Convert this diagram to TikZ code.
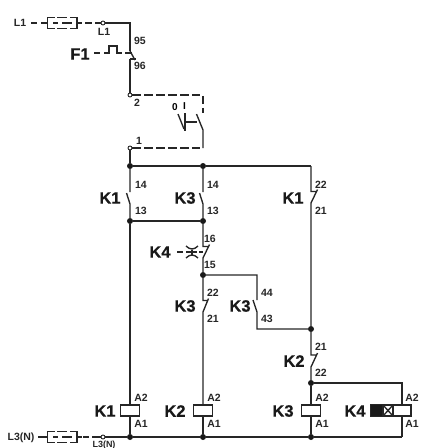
\documentclass[tikz,border=0pt]{standalone}
\usepackage{fontspec}
\setmainfont{Liberation Sans}
\newfontfamily\devfont[BoldFeatures={FakeBold=0.7}]{Liberation Sans}
\tikzset{
  x=1pt,y=-1pt,
  wire/.style={line width=1.35pt,draw=black!85},
  mech/.style={line width=1.35pt,draw=black!85,dash pattern=on 8.5pt off 3.4pt},
  dot/.style={circle,fill=black!90,draw=none,inner sep=0pt,minimum size=6pt},
  term/.style={circle,fill=white,draw=black!85,line width=0.9pt,inner sep=0pt,minimum size=4pt},
  tag/.style={font=\fontsize{10.5}{11}\selectfont\bfseries,text=black!85,inner sep=0pt},
  dev/.style={font=\fontsize{16.5}{17}\selectfont\devfont\bfseries,text=black!90,inner sep=0pt},
  coil/.style={draw=black!85,line width=1.35pt,fill=white,minimum width=18.5pt,minimum height=11pt,inner sep=0pt},
}
\begin{document}
\begin{tikzpicture}
\useasboundingbox (0,0) rectangle (429,448);
% terminals and junctions
\node[dot] (j1) at (130,166) {};
\node[dot] (j2) at (203,166) {};
\node[dot] (j3) at (130,221) {};
\node[dot] (j4) at (203,221) {};
\node[dot] (j5) at (203,275) {};
\node[dot] (j6) at (311,329) {};
\node[dot] (j7) at (311,383) {};
\node[dot] (b1) at (130,437) {};
\node[dot] (b2) at (203,437) {};
\node[dot] (b3) at (311,437) {};
\coordinate (bEnd) at (402,437);
\coordinate (c1) at (130,23);
\coordinate (f1a) at (130,51);
\coordinate (f1b) at (130,59);
\coordinate (r1) at (311,166);
\coordinate (tr) at (402,383);
\coordinate (m1) at (203,95);
\coordinate (m2) at (203,148);
\coordinate (k43) at (257,329);
\coordinate (k44) at (257,275);
\coordinate (pL1) at (103,23);
\coordinate (p2) at (130,95);
\coordinate (p1) at (130,148);
\coordinate (pL3) at (103,437);
% wires
\draw[wire] (pL1) -- (c1) -- (f1a);
\draw[wire] (f1a) -- (135,60);
\draw[wire] (f1b) -- (136,59);
\draw[wire] (f1b) -- (p2);
\draw[wire] (p1) -- (j1);
\draw[wire] (j1) -- (j2) -- (r1);
% K1 NO
\draw[wire] (j1) -- (130,192) (126.5,193) -- (130,204) -- (j3);
% K3 NO
\draw[wire] (j2) -- (203,192) (199.5,193) -- (203,204) -- (j4);
\draw[wire] (j3) -- (j4);
% K1 NC right
\draw[wire] (r1) -- (311,191.5) -- (317,191.5) (317.5,189.5) -- (311,203) -- (j6);
% K4 NC
\draw[wire] (j4) -- (203,246.5) -- (209,246.5) (209.5,244.5) -- (203,258) -- (j5);
% K3 NC
\draw[wire] (j5) -- (203,300.5) -- (208,300.5) (208.5,298.5) -- (203,312) -- (203,405);
% K3 NO 44-43
\draw[wire] (j5) -- (k44) -- (257,300) (253,300) -- (257,312) -- (k43) -- (j6);
% K2 NC
\draw[wire] (j6) -- (311,355) -- (317,355) (317.5,353) -- (311,367) -- (j7);
% coils wiring
\draw[wire] (j3) -- (130,405);
\draw[wire] (j7) -- (311,405);
\draw[wire] (j7) -- (tr) -- (402,405);
\draw[wire] (130,416) -- (b1);
\draw[wire] (203,416) -- (b2);
\draw[wire] (311,416) -- (b3);
\draw[wire] (402,416) -- (bEnd);
\draw[wire] (pL3) -- (b1) -- (b2) -- (b3) -- (bEnd);
% coils
\node[coil] (K1c) at (130,410.5) {};
\node[coil] (K2c) at (203,410.5) {};
\node[coil] (K3c) at (311,410.5) {};
\node[coil,minimum width=40pt] (K4c) at (391,410.5) {};
\fill[black!90] (371,405) rectangle (383,416);
\draw[wire] (383,405) rectangle (393,416);
\draw[wire] (383,405) -- (393,416) (383,416) -- (393,405);
% terminals
\node[term] (tL1) at (pL1) {};
\node[term] (t2) at (p2) {};
\node[term] (t1) at (p1) {};
\node[term] (tL3) at (pL3) {};
% switch S
\draw[mech] (t2) -- (m1) -- (203,113);
\draw[wire] (196.5,114) -- (203,130) -- (m2);
\draw[mech] (t1) -- (m2);
\draw[wire] (178,114) -- (184,129);
\draw[wire] (185,113) -- (185,131);
\draw[wire] (185,122) -- (197,122);
\node[font=\fontsize{10}{10}\selectfont\bfseries,inner sep=0pt] (s0) at (175,107) {0};
\node[font=\fontsize{10}{10}\selectfont\bfseries,inner sep=0pt] (sI) at (184.5,106.5) {I};
% fuses
\foreach \yy/\nm in {23/a,437/b}{
  \begin{scope}[yshift=-\yy pt]
  \draw[wire] (54.5,-5.5) -- (47.5,-5.5) -- (47.5,5.5) -- (54.5,5.5);
  \draw[wire] (70,-5.5) -- (77,-5.5) -- (77,5.5) -- (70,5.5);
  \draw[wire] (57,-5.5) -- (67,-5.5) (57,5.5) -- (67,5.5);
  \draw[wire] (53,0) -- (58,0) (62,0) -- (72,0);
  \draw[wire] (41,0) -- (47.5,0) (77,0) -- (82,0);
  \end{scope}
}
\draw[wire] (31,23) -- (37,23);
\draw[wire] (85,23) -- (92,23) (95,23) -- (tL1);
\draw[wire] (38,437) -- (47.5,437);
\draw[wire] (83,437) -- (89,437) (92,437) -- (tL3);
% F1 mechanism
\draw[wire] (94,53) -- (100,53);
\draw[wire] (104,53) -- (109,53) -- (109,46) -- (117,46) -- (117,53) -- (122,53);
\draw[wire] (125,53) -- (132,53);
% K4 time symbol
\draw[wire] (177,252) -- (183,252);
\draw[wire] (186,246) .. controls (190,250) and (194,250) .. (198,246);
\draw[wire] (186,258) .. controls (190,254) and (194,254) .. (198,258);
\draw[wire] (192,249.5) -- (192,254.5);
\draw[wire] (186,252) -- (197,252);
\draw[wire] (199,252) -- (203,252);
% labels
\node[tag] (lL1a) at (20,23) {L1};
\node[tag] (lL1b) at (104,32) {L1};
\node[tag] (l95) at (140,41) {95};
\node[tag] (l96) at (140,66) {96};
\node[tag] (l2) at (137,103) {2};
\node[tag] (l1) at (139,141) {1};
\node[dev] (dF1) at (80,54) {F1};
\node[tag] (a1) at (141,185) {14};
\node[tag] (a2) at (141,211) {13};
\node[tag] (a3) at (213,185) {14};
\node[tag] (a4) at (213,211) {13};
\node[tag] (a5) at (321,185) {22};
\node[tag] (a6) at (321,211) {21};
\node[tag] (a7) at (210,239) {16};
\node[tag] (a8) at (210,265) {15};
\node[tag] (a9) at (213,293) {22};
\node[tag] (a10) at (213,319) {21};
\node[tag] (a11) at (267,293) {44};
\node[tag] (a12) at (267,319) {43};
\node[tag] (a13) at (321,347) {21};
\node[tag] (a14) at (321,373) {22};
\node[dev] (d1) at (110,198) {K1};
\node[dev] (d2) at (185,198) {K3};
\node[dev] (d3) at (293,198) {K1};
\node[dev] (d4) at (160,252) {K4};
\node[dev] (d5) at (185,306) {K3};
\node[dev] (d6) at (240,306) {K3};
\node[dev] (d7) at (294,361) {K2};
\node[dev] (d8) at (105,411) {K1};
\node[dev] (d9) at (175,411) {K2};
\node[dev] (d10) at (283,411) {K3};
\node[dev] (d11) at (355,411) {K4};
\foreach \xx/\nn in {141/p,214/q,322/r,412/s}{
  \node[tag] (A2\nn) at (\xx,398) {A2};
  \node[tag] (A1\nn) at (\xx,424) {A1};
}
\node[tag] (lL3a) at (21,438) {L3(N)};
\node[tag,font=\fontsize{9}{10}\selectfont\bfseries,anchor=base] (lL3b) at (104,447.5) {L3(N)};
\end{tikzpicture}
\end{document}
